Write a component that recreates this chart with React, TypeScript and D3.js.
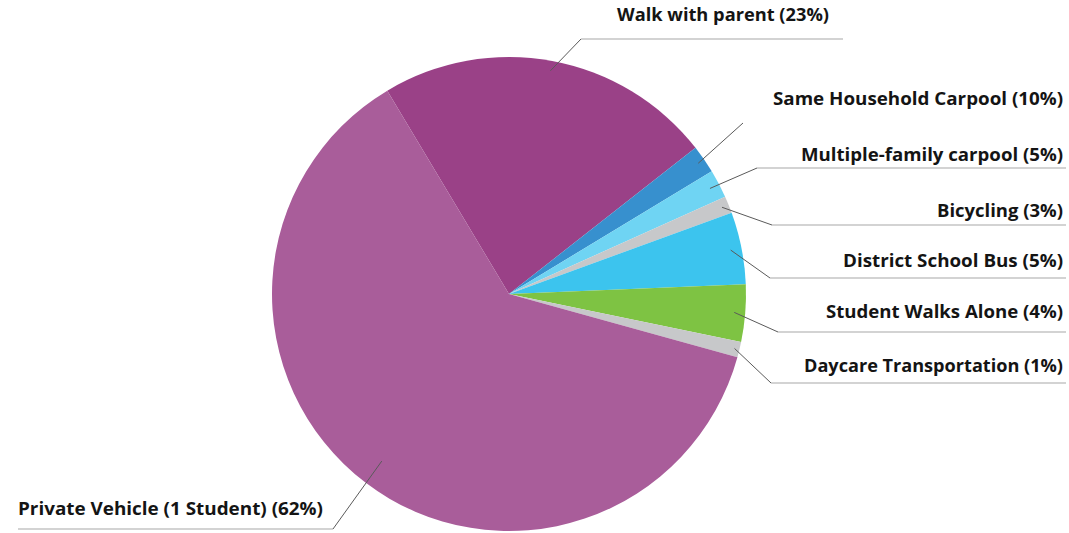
import React from "react";
import * as d3 from "d3";

const categories = [
  "Walk with parent (23%)",
  "Same Household Carpool (10%)",
  "Multiple-family carpool (5%)",
  "Bicycling (3%)",
  "District School Bus (5%)",
  "Student Walks Alone (4%)",
  "Daycare Transportation (1%)",
  "Private Vehicle (1 Student) (62%)",
];
// slice sizes as drawn (percent of circle)
const values = [23.0, 1.92, 1.93, 1.16, 4.92, 3.9, 1.05, 62.12];
const colors = ["#9a4187", "#3790ce", "#6fd4f3", "#c7c8ca", "#3cc4ee", "#7ec343", "#c7c8ca", "#a95d9a"];

// label layout: elbow, horizontal line, text position and measured width
const labelLayout = [
  { ex: 581, ly: 39, x1: 581, x2: 843, tx: 723, ty: 21, anchor: "middle", inner: 227, hline: true, tw: 212 },
  { ex: 743, ly: 123, x1: 743, x2: 743, tx: 1063, ty: 105, anchor: "end", inner: 230, hline: false, tw: 290 },
  { ex: 757, ly: 168, x1: 757, x2: 1066, tx: 1063, ty: 161, anchor: "end", inner: 227, hline: true, tw: 262 },
  { ex: 772, ly: 225, x1: 772, x2: 1066, tx: 1063, ty: 217, anchor: "end", inner: 230, hline: true, tw: 126 },
  { ex: 770, ly: 278, x1: 770, x2: 1066, tx: 1063, ty: 267, anchor: "end", inner: 226, hline: true, tw: 220 },
  { ex: 778, ly: 332, x1: 778, x2: 1066, tx: 1063, ty: 318, anchor: "end", inner: 226, hline: true, tw: 237 },
  { ex: 771, ly: 383, x1: 771, x2: 1066, tx: 1063, ty: 372, anchor: "end", inner: 232, hline: true, tw: 259 },
  { ex: 333, ly: 529, x1: 18, x2: 333, tx: 18, ty: 515, anchor: "start", inner: 210, hline: true, tw: 305 },
];

const W = 1069;
const H = 533;
const cx = 509;
const cy = 294;
const R = 237;
const startDeg = -30.9;

export default function App() {
  const pie = d3
    .pie<number>()
    .sort(null)
    .value((d) => d)
    .startAngle((startDeg * Math.PI) / 180)
    .endAngle(((startDeg + 360) * Math.PI) / 180);
  const arcs = pie(values);
  const arc = d3.arc<d3.PieArcDatum<number>>().innerRadius(0).outerRadius(R);

  return (
    <svg
      width={W}
      height={H}
      style={{ position: "absolute", left: 0, top: 0, background: "#fff" }}
      fontFamily="'Open Sans', Lato, sans-serif"
    >
      <g transform={`translate(${cx},${cy})`}>
        {arcs.map((a, i) => (
          <path key={i} d={arc(a) || ""} fill={colors[i]} />
        ))}
      </g>
      {arcs.map((a, i) => {
        const L = labelLayout[i];
        const inner = d3.arc<d3.PieArcDatum<number>>().innerRadius(L.inner).outerRadius(L.inner);
        const [px, py] = inner.centroid(a);
        return (
          <g key={i}>
            {L.hline && (
              <line x1={L.x1} y1={L.ly} x2={L.x2} y2={L.ly} stroke="#c4c4c4" strokeWidth={1.5} />
            )}
            <line x1={cx + px} y1={cy + py} x2={L.ex} y2={L.ly} stroke="#5a5a5a" strokeWidth={1} />
            <text
              x={L.tx}
              y={L.ty}
              textAnchor={L.anchor as any}
              fontSize={18}
              fontWeight={700}
              fill="#141414"
              textLength={L.tw}
              lengthAdjust="spacingAndGlyphs"
            >
              {categories[i]}
            </text>
          </g>
        );
      })}
    </svg>
  );
}
